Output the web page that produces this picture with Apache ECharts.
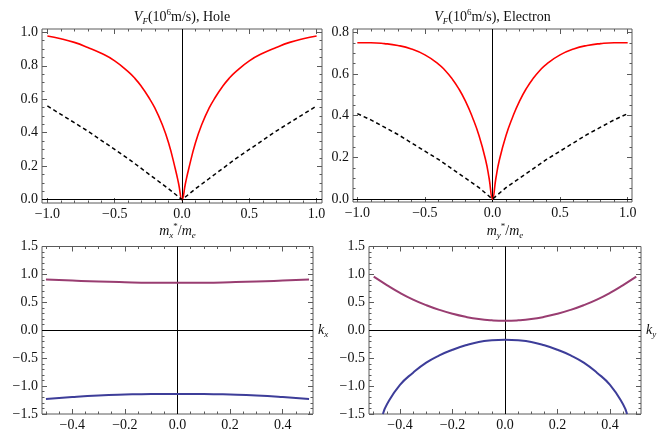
<!DOCTYPE html>
<html>
<head>
<meta charset="utf-8">
<style>
  html, body { margin: 0; background: #fff; }
  #main { width: 672px; height: 432px; }
</style>
</head>
<body>
<div id="main"></div>
<script src="https://cdn.jsdelivr.net/npm/echarts@6/dist/echarts.min.js"></script>
<script>
// ---- data ----
// V_F panels (k from -1 to 1)
var kRed = [-1, -0.9, -0.8, -0.7, -0.6, -0.5, -0.4, -0.35, -0.3, -0.25, -0.2, -0.15, -0.1, -0.05, -0.025, 0,
            0.025, 0.05, 0.1, 0.15, 0.2, 0.25, 0.3, 0.35, 0.4, 0.5, 0.6, 0.7, 0.8, 0.9, 1];
var holeRed = [0.978, 0.962, 0.94, 0.91, 0.875, 0.83, 0.765, 0.725, 0.675, 0.615, 0.545, 0.455, 0.34, 0.185, 0.095, 0,
               0.095, 0.185, 0.34, 0.455, 0.545, 0.615, 0.675, 0.725, 0.765, 0.83, 0.875, 0.91, 0.94, 0.962, 0.978];
var elecRed = [0.75, 0.75, 0.746, 0.737, 0.72, 0.692, 0.648, 0.617, 0.578, 0.53, 0.47, 0.395, 0.305, 0.185, 0.1, 0,
               0.1, 0.185, 0.305, 0.395, 0.47, 0.53, 0.578, 0.617, 0.648, 0.692, 0.72, 0.737, 0.746, 0.75, 0.75];
var kDash = [-1, -0.9, -0.8, -0.7, -0.6, -0.5, -0.4, -0.3, -0.2, -0.1, 0, 0.1, 0.2, 0.3, 0.4, 0.5, 0.6, 0.7, 0.8, 0.9, 1];
var holeDash = [0.56, 0.51, 0.46, 0.41, 0.355, 0.30, 0.245, 0.185, 0.125, 0.065, 0,
                0.065, 0.125, 0.185, 0.245, 0.30, 0.355, 0.41, 0.46, 0.51, 0.56];
var elecDash = [0.41, 0.38, 0.345, 0.31, 0.27, 0.23, 0.19, 0.145, 0.10, 0.055, 0,
                0.055, 0.10, 0.145, 0.19, 0.23, 0.27, 0.31, 0.345, 0.38, 0.41];

// effective mass panels
var kMx = [-0.5, -0.4, -0.3, -0.2, -0.1, 0, 0.1, 0.2, 0.3, 0.4, 0.5];
var mxUpper = [0.91, 0.89, 0.872, 0.86, 0.852, 0.85, 0.852, 0.86, 0.872, 0.89, 0.91];
var mxLower = [-1.23, -1.195, -1.168, -1.152, -1.142, -1.14, -1.142, -1.152, -1.168, -1.195, -1.23];
var kMyUp = [-0.5, -0.45, -0.4, -0.35, -0.3, -0.25, -0.2, -0.15, -0.1, -0.05, 0,
             0.05, 0.1, 0.15, 0.2, 0.25, 0.3, 0.35, 0.4, 0.45, 0.5];
var myUpper = [0.96, 0.81, 0.67, 0.55, 0.45, 0.365, 0.295, 0.24, 0.2, 0.178, 0.17,
               0.178, 0.2, 0.24, 0.295, 0.365, 0.45, 0.55, 0.67, 0.81, 0.96];
var kMyLow = [-0.465, -0.45, -0.4, -0.35, -0.3, -0.25, -0.2, -0.15, -0.1, -0.05, 0,
              0.05, 0.1, 0.15, 0.2, 0.25, 0.3, 0.35, 0.4, 0.45, 0.465];
var myLower = [-1.5, -1.33, -0.98, -0.76, -0.58, -0.45, -0.35, -0.27, -0.21, -0.18, -0.17,
               -0.18, -0.21, -0.27, -0.35, -0.45, -0.58, -0.76, -0.98, -1.33, -1.5];

// tick labels
var vfXTicks = [-1, -0.5, 0, 0.5, 1];
var holeYTicks = [0, 0.2, 0.4, 0.6, 0.8, 1.0];
var elecYTicks = [0, 0.2, 0.4, 0.6, 0.8];
var mXTicks = [-0.4, -0.2, 0, 0.2, 0.4];
var mYTicks = [-1.5, -1, -0.5, 0, 0.5, 1, 1.5];

var FONT = 'Liberation Serif';
var FRAME = '#5a5a5a';
var RED = '#ff0000', PURPLE = '#993d71', BLUE = '#3d3d99';

function pairs(xs, ys) {
  return xs.map(function (x, i) { return [x, ys[i]]; });
}
function steps(a, b, d) {
  var out = [];
  for (var i = 0; a + i * d <= b + 1e-9; i++) out.push(+(a + i * d).toFixed(3));
  return out;
}
function fmt(v) {
  return (v < 0 ? '\u2212' : '') + Math.abs(v).toFixed(1);
}

var grids = [], xAxes = [], yAxes = [], series = [], titles = [];

var rich = {
  i: { fontFamily: FONT, fontStyle: 'italic', fontWeight: 'normal', fontSize: 14, lineHeight: 18, color: '#111' },
  n: { fontFamily: FONT, fontWeight: 'normal', fontSize: 14, lineHeight: 18, color: '#111' },
  s: { fontFamily: FONT, fontStyle: 'italic', fontWeight: 'normal', fontSize: 9, lineHeight: 10, verticalAlign: 'bottom', color: '#111' },
  su: { fontFamily: FONT, fontWeight: 'normal', fontSize: 9, lineHeight: 10, verticalAlign: 'top', color: '#111' }
};

// one framed panel with Mathematica-like inward ticks on all sides
function panel(p) {
  var gi = grids.length;
  grids.push({ left: p.left, top: p.top, width: p.width, height: p.height,
    show: true, borderColor: FRAME, borderWidth: 1, backgroundColor: 'transparent' });
  var xBase = xAxes.length, yBase = yAxes.length;
  [['bottom', p.xMaj, 5, true], ['bottom', p.xMin, 2.5, false],
   ['top', p.xMaj, 5, false], ['top', p.xMin, 2.5, false]].forEach(function (c) {
    xAxes.push({
      gridIndex: gi, type: 'value', position: c[0], min: p.xRange[0], max: p.xRange[1],
      axisLine: { show: false, onZero: false }, splitLine: { show: false },
      axisTick: { show: true, inside: true, length: c[2], customValues: c[1], lineStyle: { color: FRAME, width: 1 } },
      axisLabel: c[3] ? { show: true, customValues: p.xMaj, formatter: fmt, margin: 4,
        fontFamily: FONT, fontSize: 14, color: '#111' } : { show: false }
    });
  });
  [['left', p.yMaj, 5, true], ['left', p.yMin, 2.5, false],
   ['right', p.yMaj, 5, false], ['right', p.yMin, 2.5, false]].forEach(function (c) {
    yAxes.push({
      gridIndex: gi, type: 'value', position: c[0], min: p.yRange[0], max: p.yRange[1],
      axisLine: { show: false, onZero: false }, splitLine: { show: false },
      axisTick: { show: true, inside: true, length: c[2], customValues: c[1], lineStyle: { color: FRAME, width: 1 } },
      axisLabel: c[3] ? { show: true, customValues: p.yMaj, formatter: fmt, margin: 4,
        fontFamily: FONT, fontSize: 14, color: '#111' } : { show: false }
    });
  });
  p.curves.forEach(function (cv, k) {
    var s = {
      type: 'line', xAxisIndex: xBase, yAxisIndex: yBase, data: cv.data,
      showSymbol: false, smooth: cv.smooth, clip: true, silent: true, z: 3,
      lineStyle: { color: cv.color, width: cv.width, type: cv.dash || 'solid' }
    };
    if (k === 0) {
      var hLabel = p.axisName ? { show: true, position: 'end', distance: 5, formatter: p.axisName, rich: rich }
                              : { show: false };
      s.markLine = {
        silent: true, symbol: 'none', animation: false, z: 2,
        lineStyle: { color: '#000', width: 1, type: 'solid' },
        emphasis: { disabled: true },
        data: [{ xAxis: 0, label: { show: false } }, { yAxis: 0, label: hLabel }]
      };
    }
    series.push(s);
  });
  titles.push({
    text: p.title, left: p.left + p.width / 2, top: p.titleTop, textAlign: 'center', padding: 0,
    textStyle: { fontWeight: 'normal', fontFamily: FONT, rich: rich }
  });
}

panel({
  left: 42, top: 29, width: 280, height: 174,
  xRange: [-1.04, 1.04], yRange: [-0.02, 1.02],
  xMaj: vfXTicks, xMin: steps(-1, 1, 0.1), yMaj: holeYTicks, yMin: steps(0, 1, 0.05),
  title: '{i|V}{s|F}{n|(10}{su|6}{n|m/s), Hole}', titleTop: 8,
  curves: [
    { data: pairs(kRed, holeRed), color: RED, width: 1.6, smooth: true },
    { data: pairs(kDash, holeDash), color: '#000', width: 1.5, smooth: false, dash: [4, 3] }
  ]
});
panel({
  left: 353, top: 29, width: 279, height: 173,
  xRange: [-1.032, 1.032], yRange: [-0.014, 0.816],
  xMaj: vfXTicks, xMin: steps(-1, 1, 0.1), yMaj: elecYTicks, yMin: steps(0, 0.8, 0.05),
  title: '{i|V}{s|F}{n|(10}{su|6}{n|m/s), Electron}', titleTop: 8,
  curves: [
    { data: pairs(kRed, elecRed), color: RED, width: 1.6, smooth: true },
    { data: pairs(kDash, elecDash), color: '#000', width: 1.5, smooth: false, dash: [4, 3] }
  ]
});
panel({
  left: 42, top: 246.5, width: 271, height: 168.5,
  xRange: [-0.515, 0.515], yRange: [-1.5, 1.5],
  xMaj: mXTicks, xMin: steps(-0.5, 0.5, 0.05), yMaj: mYTicks, yMin: steps(-1.5, 1.5, 0.1),
  title: '{i|m}{s|x}{su|*}{n|/}{i|m}{s|e}', titleTop: 222, axisName: '{i|k}{s|x}',
  curves: [
    { data: pairs(kMx, mxUpper), color: PURPLE, width: 2, smooth: true },
    { data: pairs(kMx, mxLower), color: BLUE, width: 2, smooth: true }
  ]
});
panel({
  left: 369, top: 246.5, width: 272, height: 168.5,
  xRange: [-0.518, 0.518], yRange: [-1.5, 1.5],
  xMaj: mXTicks, xMin: steps(-0.5, 0.5, 0.05), yMaj: mYTicks, yMin: steps(-1.5, 1.5, 0.1),
  title: '{i|m}{s|y}{su|*}{n|/}{i|m}{s|e}', titleTop: 222, axisName: '{i|k}{s|y}',
  curves: [
    { data: pairs(kMyUp, myUpper), color: PURPLE, width: 2, smooth: true },
    { data: pairs(kMyLow, myLower), color: BLUE, width: 2, smooth: true }
  ]
});

var chart = echarts.init(document.getElementById('main'), null, { renderer: 'canvas' });
chart.setOption({
  backgroundColor: '#fff',
  animation: false,
  title: titles,
  grid: grids,
  xAxis: xAxes,
  yAxis: yAxes,
  series: series
});
</script>
</body>
</html>
